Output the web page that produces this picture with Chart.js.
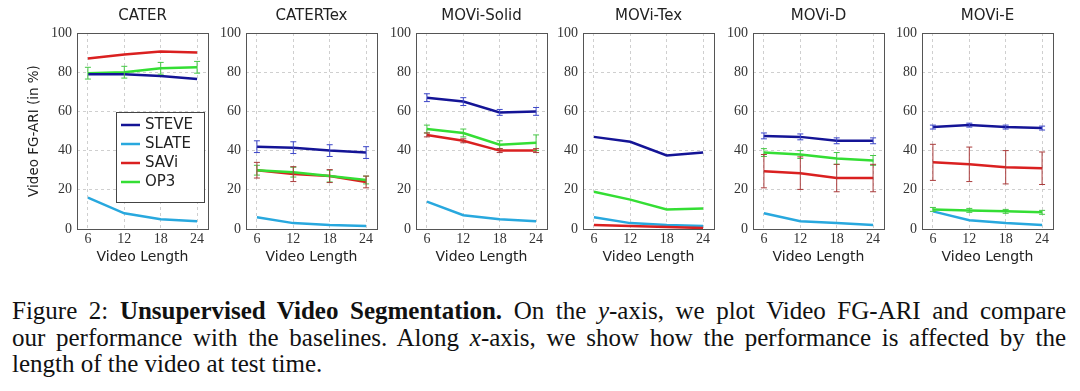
<!DOCTYPE html>
<html>
<head>
<meta charset="utf-8">
<script src="https://cdn.jsdelivr.net/npm/chart.js@4/dist/chart.umd.min.js"></script>
<style>
  body { margin: 0; background: #fff; }
  #wrap { position: relative; width: 1080px; height: 391px; overflow: hidden; }
  .panel { position: absolute; top: 0; height: 270px; }
  #caption {
    position: absolute; left: 12px; top: 298px; width: 1054px;
    font-family: "Liberation Serif", serif; font-size: 25px; line-height: 26.5px;
    color: #111;
  }
  #caption div { white-space: nowrap; height: 26.5px; }
  #caption span { display: inline-block; transform-origin: 0 0; }
</style>
</head>
<body>
<div id="wrap">
  <div id="caption">
    <div><span class="fill">Figure 2: <b>Unsupervised Video Segmentation.</b> On the <i>y</i>-axis, we plot Video FG-ARI and compare</span></div>
    <div><span class="fill">our performance with the baselines. Along <i>x</i>-axis, we show how the performance is affected by the</span></div>
    <div><span>length of the video at test time.</span></div>
  </div>
</div>
<script>
const lengths = [6, 12, 18, 24];
const panelTitles = ['CATER', 'CATERTex', 'MOVi-Solid', 'MOVi-Tex', 'MOVi-D', 'MOVi-E'];

// one row per panel, values at video length 6, 12, 18, 24
const steve    = [[79, 79, 78, 76.5], [42, 41.5, 40, 39], [67, 65, 59.5, 60], [47, 44.5, 37.5, 39], [47.5, 47, 45, 45], [52, 53, 52, 51.5]];
const steveErr = [[0, 0, 0, 0], [3, 3, 3, 3], [2, 2, 1.5, 2], [0, 0, 0, 0], [1.5, 1.5, 1.5, 1.5], [1, 1, 1, 1]];
const slate    = [[16, 8, 5, 4], [6, 3, 2, 1.5], [14, 7, 5, 4], [6, 3, 2, 1.5], [8, 4, 3, 2], [9, 4.5, 3, 2]];
const savi     = [[87, 89, 90.5, 90], [30, 28, 27, 24], [48, 45, 40, 40], [2, 1.5, 1, 0.5], [29.5, 28.5, 26, 26], [34, 33, 31.5, 31]];
const saviErr  = [[0, 0, 0, 0], [4, 3.8, 3.3, 3], [1, 1, 1, 1], [0, 0, 0, 0], [8.5, 8.3, 7, 7], [9.2, 8.8, 8.5, 8.3]];
const op3      = [[79.5, 80, 82, 82.5], [30, 29, 27, 25], [51, 49, 43, 44], [19, 15, 10, 10.5], [39, 38, 36, 35], [10, 9.5, 9, 8.5]];
const op3Err   = [[3, 3, 3, 3], [2.5, 2.5, 3, 2], [2, 2, 2, 4], [0, 0, 0, 0], [2, 2, 3, 2.5], [1, 1, 1, 1]];

const plotLefts = [77, 246, 416, 583, 753, 922];
const plotWidth = 131;

const colors = {
  steve: 'rgb(20,20,150)',
  slate: 'rgb(40,168,222)',
  savi: 'rgb(218,32,32)',
  op3: 'rgb(52,222,52)'
};

// justified caption lines: widen the spaces, or squeeze the line if it is too long
document.querySelectorAll('#caption .fill').forEach(s => {
  const target = 1054;
  const w = s.getBoundingClientRect().width;
  if (w > target) {
    s.style.transform = 'scaleX(' + (target / w) + ')';
  } else {
    const gaps = (s.textContent.match(/ /g) || []).length;
    s.style.wordSpacing = ((target - w) / gaps) + 'px';
  }
});

// frame around the plot area
const framePlugin = {
  id: 'frame',
  afterDraw(chart) {
    const a = chart.chartArea, ctx = chart.ctx;
    ctx.save();
    ctx.strokeStyle = '#555';
    ctx.lineWidth = 1;
    ctx.strokeRect(Math.round(a.left) + 0.5, Math.round(a.top) + 0.5, Math.round(a.right - a.left), Math.round(a.bottom - a.top));
    ctx.restore();
  }
};

// vertical error bars from dataset.errors
const errorBarPlugin = {
  id: 'errorBars',
  afterDatasetsDraw(chart) {
    const ctx = chart.ctx, xs = chart.scales.x, ys = chart.scales.y;
    ctx.save();
    chart.data.datasets.forEach(ds => {
      if (!ds.errors) return;
      ctx.strokeStyle = ds.errorColor;
      ctx.lineWidth = 1;
      ds.data.forEach((p, i) => {
        const e = ds.errors[i];
        if (!e) return;
        const x = xs.getPixelForValue(p.x);
        const y1 = ys.getPixelForValue(p.y - e), y2 = ys.getPixelForValue(p.y + e);
        ctx.beginPath();
        ctx.moveTo(x, y1); ctx.lineTo(x, y2);
        ctx.moveTo(x - 3, y1); ctx.lineTo(x + 3, y1);
        ctx.moveTo(x - 3, y2); ctx.lineTo(x + 3, y2);
        ctx.stroke();
      });
    });
    ctx.restore();
  }
};

// boxed legend in the lower right of the first panel
const boxLegendPlugin = {
  id: 'boxLegend',
  afterDraw(chart, args, opts) {
    if (!opts.show) return;
    const ctx = chart.ctx, a = chart.chartArea;
    const items = chart.data.datasets.slice().sort((p, q) => p.legendIndex - q.legendIndex);
    const bx = a.left + 39, by = a.top + 79, bw = 88, bh = 90;
    ctx.save();
    ctx.fillStyle = '#fff';
    ctx.fillRect(bx, by, bw, bh);
    ctx.strokeStyle = '#444';
    ctx.lineWidth = 1;
    ctx.strokeRect(bx + 0.5, by + 0.5, bw, bh);
    ctx.font = '15px "DejaVu Sans"';
    ctx.textBaseline = 'middle';
    items.forEach((ds, i) => {
      const y = by + 13 + i * 19;
      ctx.strokeStyle = ds.borderColor;
      ctx.lineWidth = 2.5;
      ctx.beginPath();
      ctx.moveTo(bx + 5, y); ctx.lineTo(bx + 24, y);
      ctx.stroke();
      ctx.fillStyle = '#222';
      ctx.fillText(ds.label, bx + 29, y);
    });
    ctx.restore();
  }
};

function series(label, values, errs, color, errColor, order, legendIndex) {
  return {
    label: label,
    data: lengths.map((x, i) => ({ x: x, y: values[i] })),
    errors: errs,
    errorColor: errColor,
    borderColor: color,
    backgroundColor: color,
    borderWidth: 2.5,
    pointRadius: 0,
    tension: 0,
    order: order,
    legendIndex: legendIndex
  };
}

const tickFont = { family: "'Liberation Serif', serif", size: 14 };

panelTitles.forEach((title, p) => {
  const yW = p === 0 ? 77 : 32;
  const div = document.createElement('div');
  div.className = 'panel';
  div.style.left = (plotLefts[p] - yW) + 'px';
  div.style.width = (yW + plotWidth + 8) + 'px';
  const canvas = document.createElement('canvas');
  div.appendChild(canvas);
  document.getElementById('wrap').appendChild(div);

  new Chart(canvas, {
    type: 'line',
    data: {
      datasets: [
        series('STEVE', steve[p], steveErr[p], colors.steve, 'rgb(60,70,200)', 0, 0),
        series('OP3', op3[p], op3Err[p], colors.op3, 'rgb(70,200,70)', 1, 3),
        series('SAVi', savi[p], saviErr[p], colors.savi, 'rgb(170,60,60)', 2, 2),
        series('SLATE', slate[p], null, colors.slate, null, 3, 1)
      ]
    },
    options: {
      responsive: true,
      maintainAspectRatio: false,
      animation: false,
      layout: { padding: { left: 0, right: 8, top: 0, bottom: 0 } },
      plugins: {
        legend: { display: false },
        tooltip: { enabled: false },
        title: {
          display: true,
          fullSize: false,
          text: title,
          color: '#222',
          font: { family: 'DejaVu Sans', size: 15, weight: 'normal' },
          padding: { top: 7.5, bottom: 7.5 }
        },
        boxLegend: { show: p === 0 }
      },
      scales: {
        x: {
          type: 'linear',
          min: 4.2,
          max: 25.8,
          afterBuildTicks: s => { s.ticks = lengths.map(v => ({ value: v })); },
          afterFit: s => { s.height = 41; },
          grid: { color: '#cfcfcf', drawTicks: false },
          border: { display: false, dash: [3, 3] },
          ticks: { color: '#333', padding: 2, font: tickFont },
          title: {
            display: true,
            text: 'Video Length',
            color: '#222',
            font: { family: 'DejaVu Sans', size: 14 },
            padding: { top: 0, bottom: 4 }
          }
        },
        y: {
          min: 0,
          max: 100,
          afterFit: s => { s.width = yW; },
          grid: { color: '#cfcfcf', drawTicks: false },
          border: { display: false, dash: [3, 3] },
          ticks: { stepSize: 20, color: '#333', padding: 5, font: tickFont },
          title: {
            display: p === 0,
            text: 'Video FG-ARI (in %)',
            color: '#222',
            font: { family: 'DejaVu Sans', size: 13.5 },
            padding: { top: 26, bottom: 0 }
          }
        }
      }
    },
    plugins: [errorBarPlugin, boxLegendPlugin, framePlugin]
  });
});
</script>
</body>
</html>
